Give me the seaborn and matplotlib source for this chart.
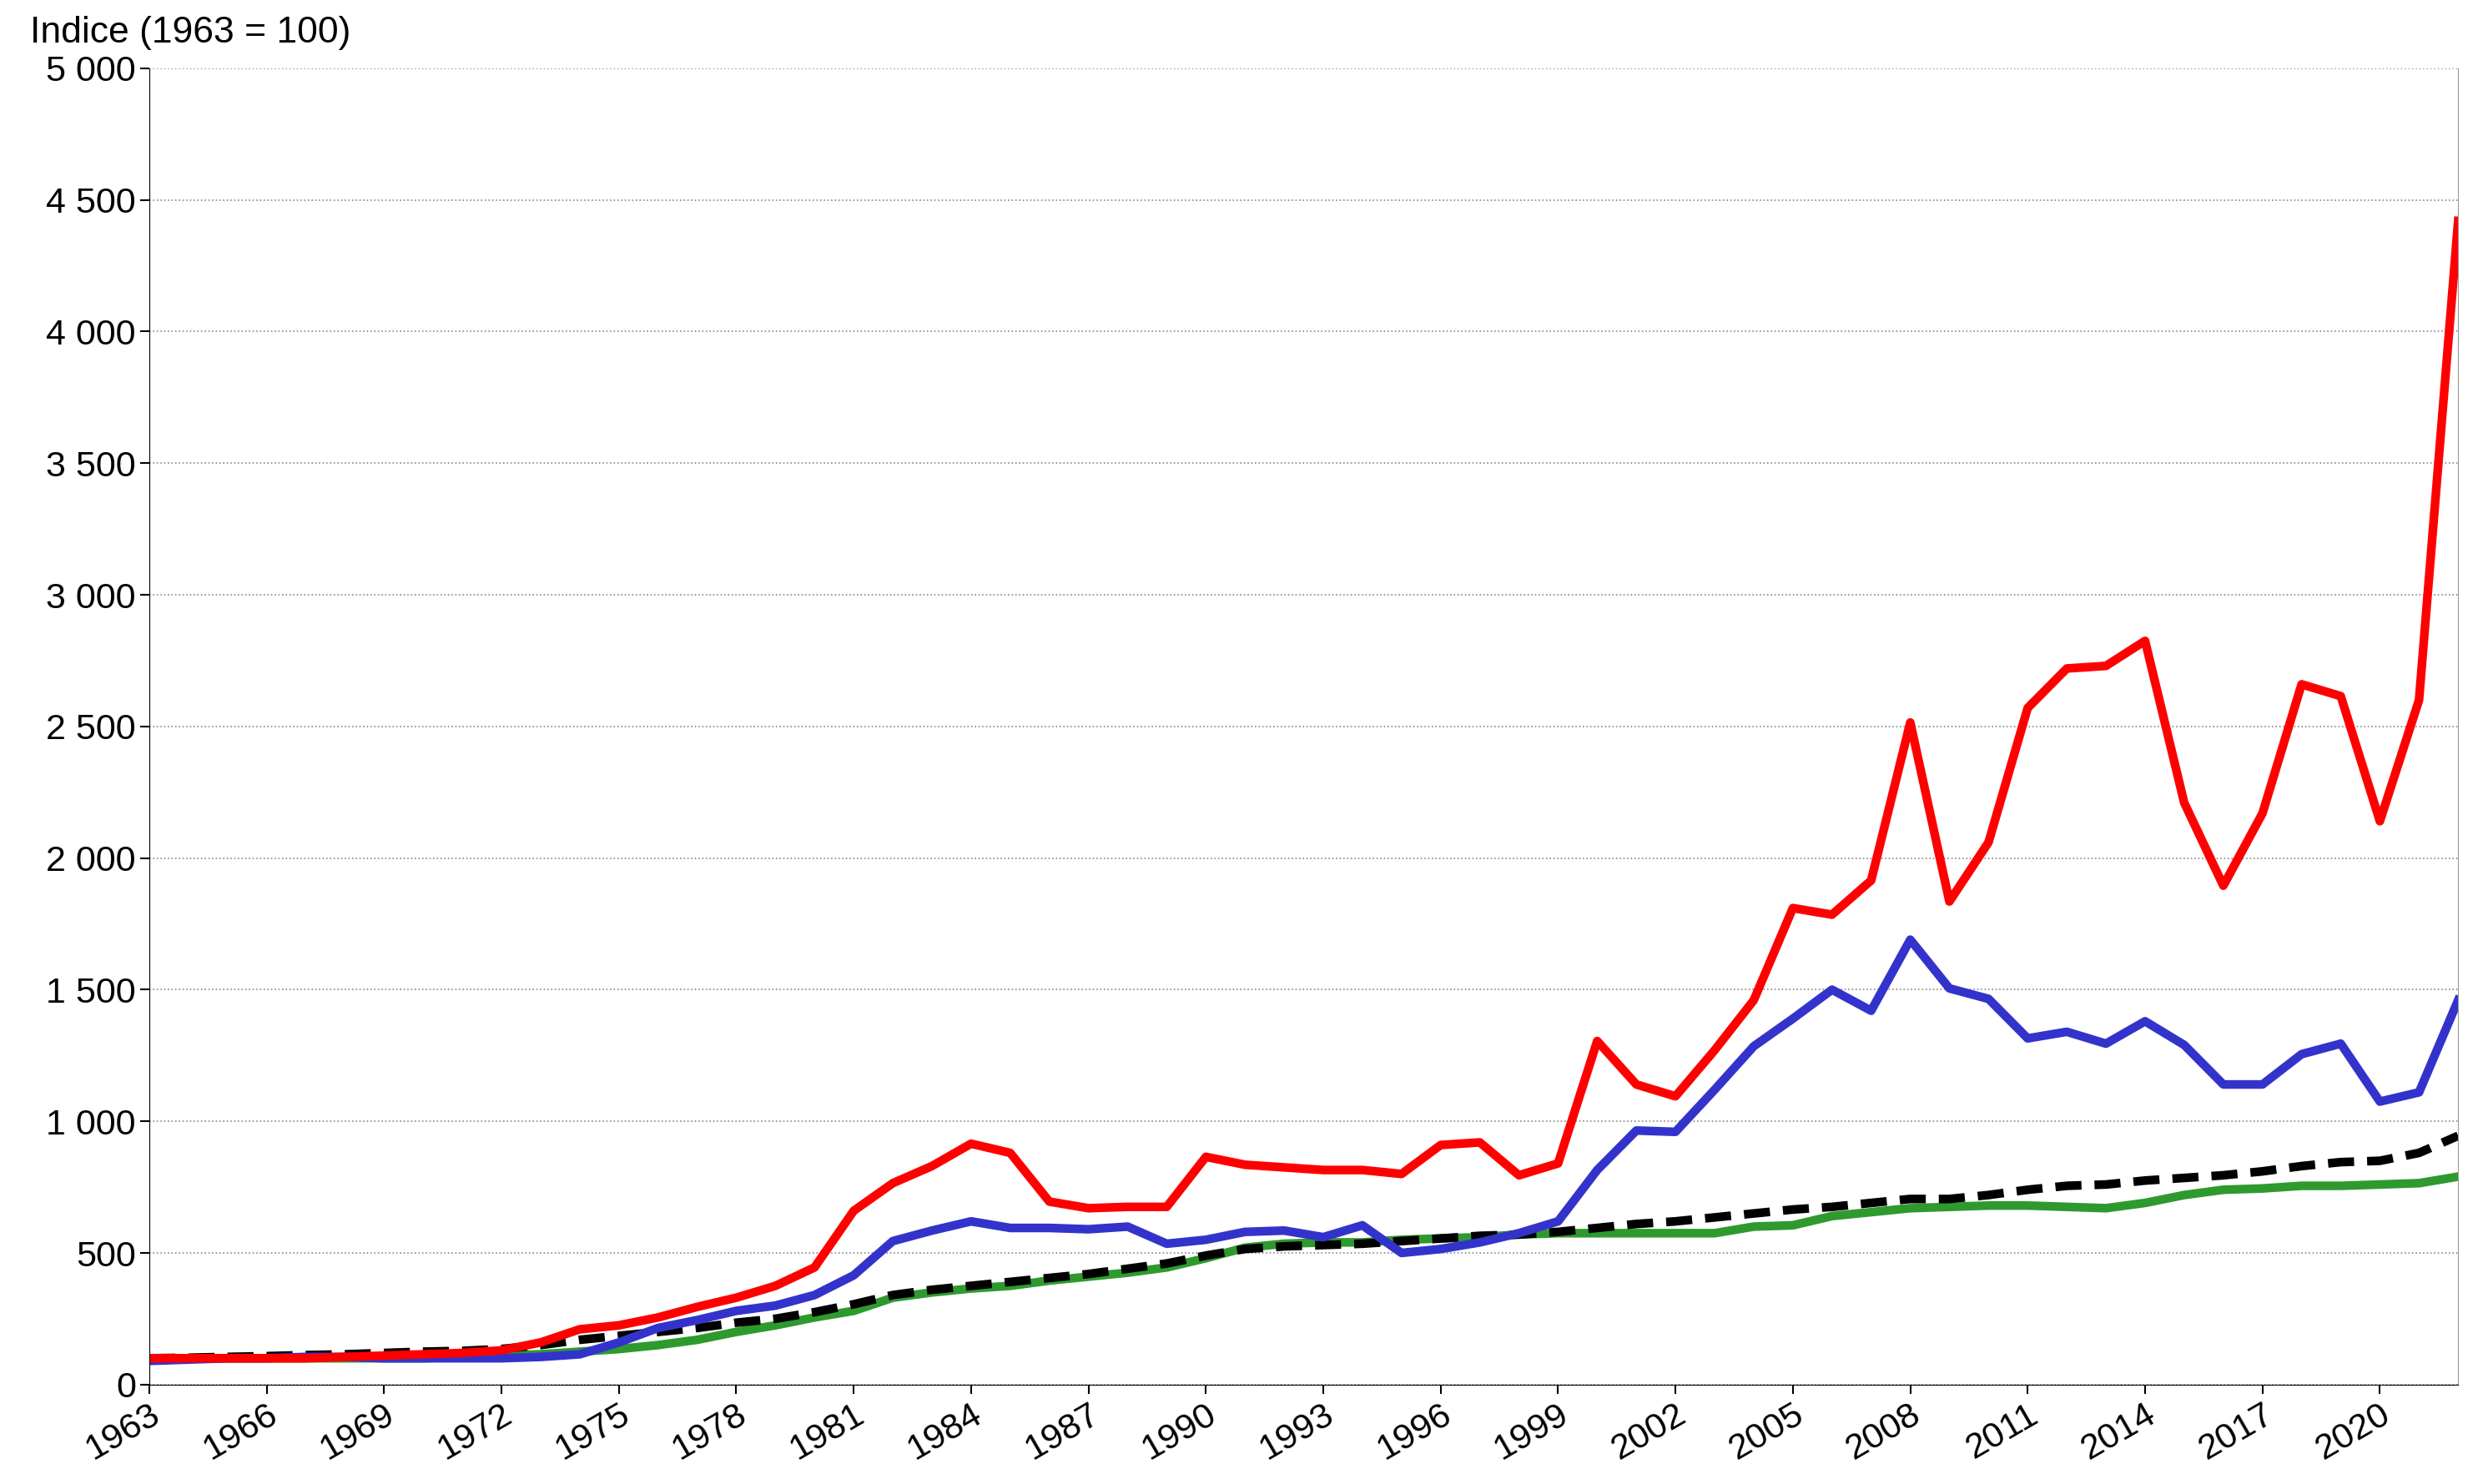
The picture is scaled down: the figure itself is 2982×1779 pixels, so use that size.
import matplotlib
matplotlib.use("Agg")
import matplotlib.pyplot as plt
import seaborn as sns
import pandas as pd
from matplotlib.ticker import FuncFormatter

years = list(range(1963, 2023))
red = [100,100,100,100,100,105,110,115,120,130,160,210,225,255,295,330,375,445,660,765,830,915,880,695,670,675,675,865,835,825,815,815,800,910,920,795,840,1305,1140,1095,1270,1460,1810,1785,1915,2515,1835,2060,2570,2720,2730,2825,2210,1895,2170,2660,2615,2140,2600,4420]
blue = [90,95,100,100,105,105,100,100,100,100,105,115,160,215,245,280,300,340,415,545,585,620,595,595,590,600,535,550,580,585,560,605,500,515,540,575,620,815,965,960,1120,1285,1390,1500,1420,1690,1505,1465,1315,1340,1295,1380,1290,1140,1140,1255,1295,1075,1110,1460]
black = [100,102,105,108,112,115,120,125,128,135,150,170,185,200,215,235,250,275,305,340,360,375,390,405,420,440,460,490,515,525,530,535,545,555,565,570,580,595,610,620,635,650,665,675,690,705,705,720,740,755,760,775,785,795,810,830,845,850,880,945]
green = [100,100,100,100,100,100,100,100,105,110,115,125,135,150,170,200,225,255,280,330,350,365,375,395,410,425,445,480,520,535,540,540,550,555,560,570,575,575,575,575,575,600,605,640,655,670,675,680,680,675,670,690,720,740,745,755,755,760,765,790]
tick_years = list(range(1963, 2023, 3))
y_label = "Indice (1963 = 100)"

df = pd.DataFrame({"year": years, "red": red, "blue": blue, "black": black, "green": green})

plt.rcParams["font.family"] = "Liberation Sans"
fig = plt.figure(figsize=(29.82, 17.79), dpi=100)
ax = fig.add_axes([0.060, 0.067, 0.928, 0.887])
lw = 7.5
sns.lineplot(data=df, x="year", y="green", color="#2e9a2e", lw=lw, ax=ax)
sns.lineplot(data=df, x="year", y="black", color="black", lw=lw, ls=(0, (3, 1.5)), ax=ax)
sns.lineplot(data=df, x="year", y="blue", color="#3333cc", lw=lw, ax=ax)
sns.lineplot(data=df, x="year", y="red", color="#ff0000", lw=lw, ax=ax)

ax.set_xlim(1963, 2022)
ax.set_ylim(0, 5000)
ax.set_yticks(range(0, 5001, 500))
ax.yaxis.set_major_formatter(FuncFormatter(lambda v, p: f"{int(v):,}".replace(",", " ")))
ax.set_xticks(tick_years)
ax.set_xticklabels([str(y) for y in tick_years], rotation=30, ha="right", rotation_mode="anchor")
ax.tick_params(labelsize=31, length=8, width=1.5)
ax.grid(axis="y", color="#888888", ls=":", lw=1.2)
ax.set_xlabel("")
ax.set_ylabel("")
ax.spines["right"].set_color("#999999")
ax.spines["top"].set_visible(False)
fig.text(0.012, 0.978, y_label, fontsize=32, va="center")
fig.savefig("out.png", dpi=100)
